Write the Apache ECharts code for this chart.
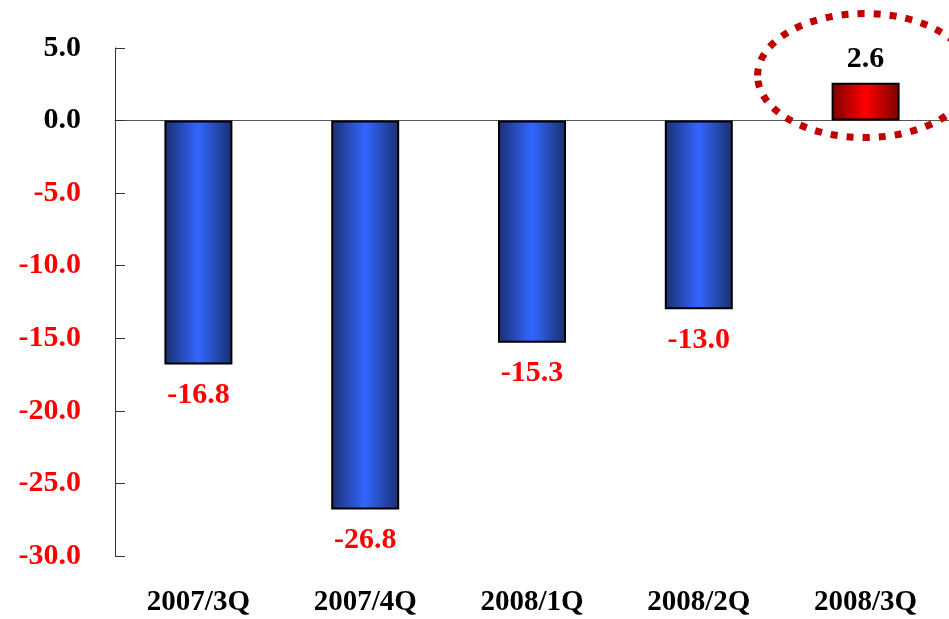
<!DOCTYPE html>
<html><head><meta charset="utf-8">
<script src="https://cdn.jsdelivr.net/npm/echarts@6/dist/echarts.min.js"></script>
<style>html,body{margin:0;padding:0;background:#fff}#c{width:949px;height:619px}</style>
</head><body><div id="c"></div>
<script>
const categories = ['2007/3Q','2007/4Q','2008/1Q','2008/2Q','2008/3Q'];
const values = [-16.8, -26.8, -15.3, -13.0, 2.6];
const yTicks = { min: -30, max: 5, interval: 5 };

const chart = echarts.init(document.getElementById('c'));
const font = '"Liberation Serif","Times New Roman",serif';
const blueGrad = new echarts.graphic.LinearGradient(0,0,1,0,[
  {offset:0,color:'#1a2f6e'},{offset:0.5,color:'#3366ff'},{offset:1,color:'#1a2f6e'}]);
const redGrad = new echarts.graphic.LinearGradient(0,0,1,0,[
  {offset:0,color:'#7a0000'},{offset:0.5,color:'#ff0000'},{offset:1,color:'#7a0000'}]);

chart.setOption({
  animation:false,
  grid:{left:115,right:-2,top:48,bottom:63,containLabel:false},
  xAxis:[{
    type:'category',data:categories,
    axisLine:{onZero:true,lineStyle:{color:'#555',width:1}},
    axisTick:{inside:true,length:10,lineStyle:{color:'#777'}},
    axisLabel:{show:false}
  },{
    type:'category',data:categories,position:'bottom',
    axisLine:{show:false},axisTick:{show:false},
    axisLabel:{margin:32,fontFamily:font,fontWeight:'bold',fontSize:29,color:'#000'}
  }],
  yAxis:{
    type:'value',min:yTicks.min,max:yTicks.max,interval:yTicks.interval,
    splitLine:{show:false},
    axisLine:{show:true,lineStyle:{color:'#333'}},
    axisTick:{show:true,inside:true,length:10,lineStyle:{color:'#333'}},
    axisLabel:{margin:34,fontFamily:font,fontWeight:'bold',fontSize:30,
      formatter:v=>v.toFixed(1),
      color:v=>Number(v)<0?'#ff0000':'#000'}
  },
  series:[{
    type:'bar',xAxisIndex:0,barWidth:68,
    data:values.map(v=>({
      value:v,
      itemStyle:{color:v<0?blueGrad:redGrad,borderColor:'#000',borderWidth:2},
      label:{show:true,position:v<0?'bottom':'top',distance:v<0?16:9,
        formatter:p=>p.value.toFixed(1),
        fontFamily:font,fontWeight:'bold',fontSize:30,color:v<0?'#ff0000':'#000'}
    }))
  }]
});

// dotted ellipse highlighting the last bar
const c = chart.convertToPixel({xAxisIndex:0,yAxisIndex:0},[categories[4], values[4]]);
const z = chart.convertToPixel({xAxisIndex:0,yAxisIndex:0},[categories[4], 0]);
chart.setOption({graphic:[{
  type:'ellipse',
  shape:{cx:c[0]-1,cy:z[1]-45,rx:107,ry:62},
  style:{fill:'none',stroke:'#c00000',lineWidth:7,lineDash:[7,9]},
  z:100
}]});
</script></body></html>
